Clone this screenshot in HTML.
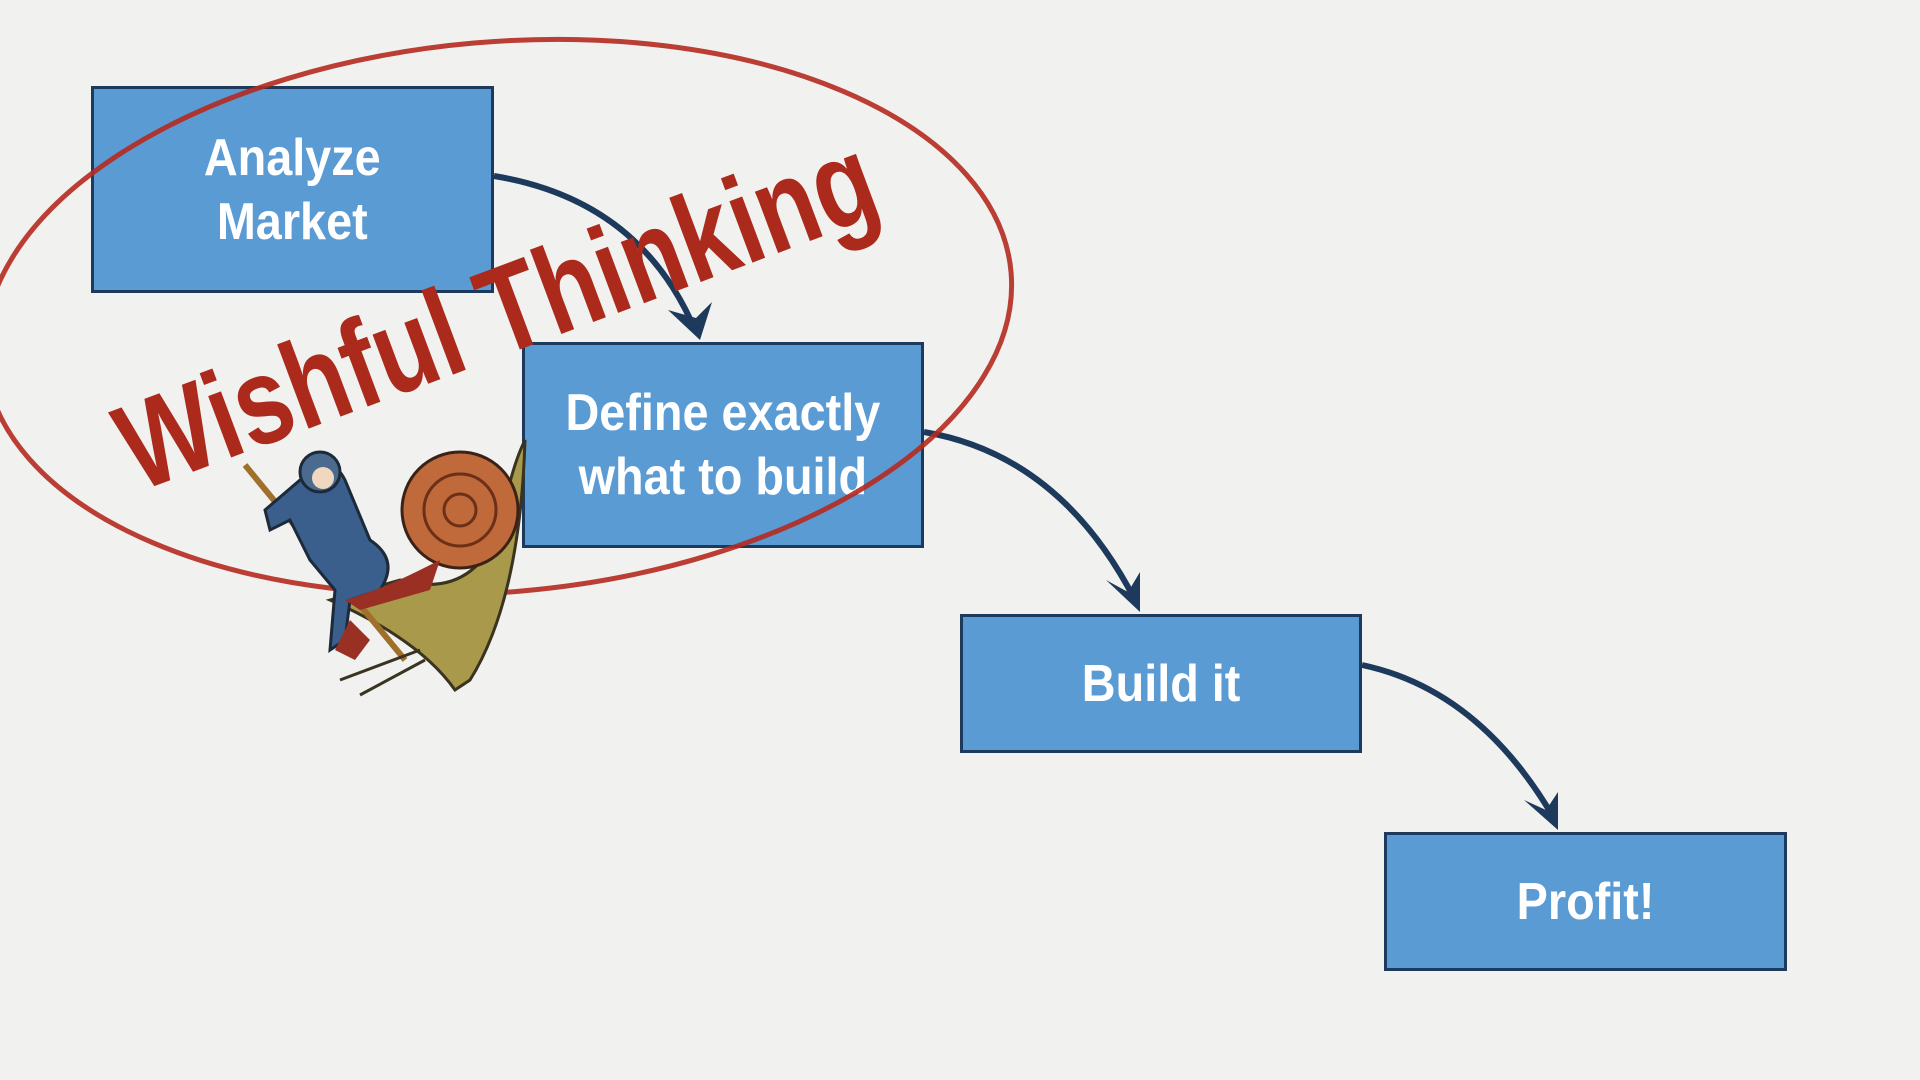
<!DOCTYPE html>
<html><head><meta charset="utf-8"><style>
html,body{margin:0;padding:0;}
body{width:1920px;height:1080px;background:#f1f1f0;position:relative;overflow:hidden;font-family:"Liberation Sans",sans-serif;}
.box{position:absolute;background:#5b9bd3;border:3px solid #1d3a5c;box-sizing:border-box;display:flex;align-items:center;justify-content:center;text-align:center;color:#fff;font-weight:bold;font-size:52px;line-height:64px;}
.box span{display:inline-block;transform:scaleX(0.9);white-space:nowrap;}
svg{position:absolute;left:0;top:0;}
</style></head><body>
<div class="box" style="left:91px;top:86px;width:403px;height:207px;"><span>Analyze<br>Market</span></div>
<div class="box" style="left:522px;top:342px;width:402px;height:206px;"><span>Define exactly<br>what to build</span></div>
<div class="box" style="left:960px;top:614px;width:402px;height:139px;"><span>Build it</span></div>
<div class="box" style="left:1384px;top:832px;width:403px;height:139px;"><span>Profit!</span></div>
<svg width="1920" height="1080">
<g fill="none" stroke="#1d3a5c" stroke-width="6">
<path d="M494,176 Q640,200 695,330"/>
<path d="M924,432 Q1060,455 1135,600"/>
<path d="M1362,665 Q1480,690 1555,820"/>
</g>
<g fill="#1d3a5c">
<path d="M668,310 L700,340 L712,302 L696,318z"/>
<path d="M1106,580 L1140,612 L1140,572 L1128,592z"/>
<path d="M1524,800 L1558,830 L1558,792 L1546,810z"/>
</g>
<ellipse cx="498" cy="317" rx="515" ry="275" transform="rotate(-5 498 317)" fill="none" stroke="#b52a20" stroke-width="5" opacity="0.9"/>
<g>
<path d="M330,600 Q420,640 455,690 L470,680 Q520,600 525,440 Q510,470 500,530 Q470,600 400,580z" fill="#a89a4a" stroke="#3a3320" stroke-width="3"/>
<circle cx="460" cy="510" r="58" fill="#c0693a" stroke="#3a2316" stroke-width="3"/>
<circle cx="460" cy="510" r="36" fill="none" stroke="#6b3017" stroke-width="3"/>
<circle cx="460" cy="510" r="16" fill="none" stroke="#6b3017" stroke-width="3"/>
<line x1="245" y1="465" x2="405" y2="660" stroke="#a0702a" stroke-width="6"/>
<path d="M300,480 Q330,450 345,480 L370,540 Q400,560 380,590 L350,600 L345,640 L330,650 L335,590 L310,560 L290,520 L270,530 L265,510z" fill="#3a5f8c" stroke="#1c2a3a" stroke-width="3"/>
<circle cx="320" cy="472" r="20" fill="#4a6a8e" stroke="#1c2a3a" stroke-width="3"/>
<circle cx="323" cy="478" r="11" fill="#f0d8c0"/>
<path d="M345,600 Q380,590 420,570 L440,560 L430,590 L360,610z" fill="#9a3024"/>
<path d="M350,620 L370,640 L355,660 L335,650z" fill="#9a3024"/>
<line x1="340" y1="680" x2="420" y2="650" stroke="#3a3320" stroke-width="3"/>
<line x1="360" y1="695" x2="425" y2="660" stroke="#3a3320" stroke-width="3"/>
</g>
<text x="0" y="0" transform="translate(500,322) rotate(-20.5) scale(0.8,1)" text-anchor="middle" dominant-baseline="middle" font-family="Liberation Sans, sans-serif" font-weight="bold" font-size="124" fill="#ab2a1c">Wishful Thinking</text>
</svg>
</body></html>
